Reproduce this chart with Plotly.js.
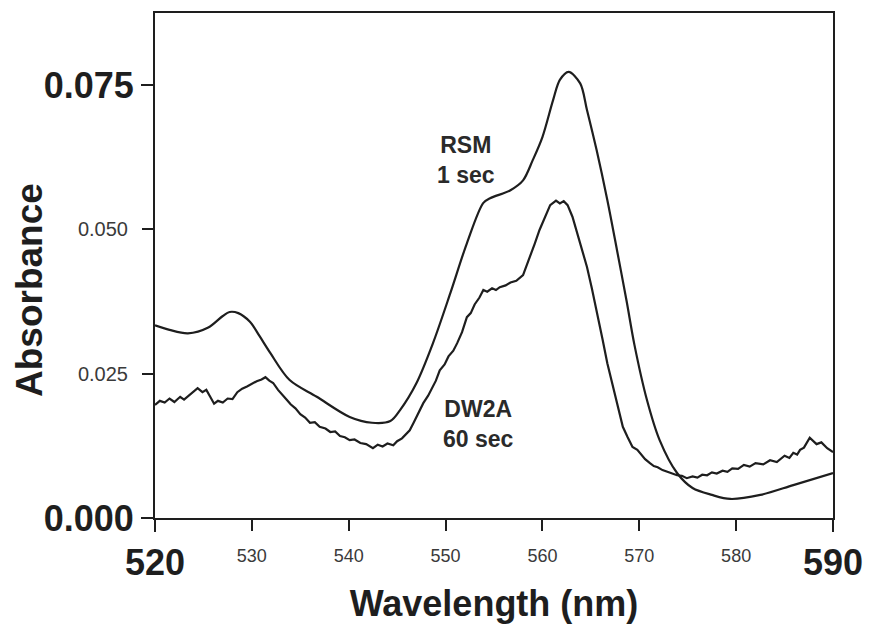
<!DOCTYPE html>
<html><head><meta charset="utf-8">
<script src="https://cdn.plot.ly/plotly-3.0.1.min.js"></script>
<style>html,body{margin:0;padding:0;background:#fff}#chart{width:881px;height:624px}</style>
</head><body><div id="chart"></div>
<script>
// RSM, 1 sec (smooth upper trace)
var rsmWavelength = [520.0, 521.5, 523.4, 525.5, 527.0, 527.7, 528.6, 529.8, 530.8, 531.9, 533.9, 536.7, 540.1, 542.4, 544.3, 545.3, 547.0, 548.7, 550.5, 552.2, 553.9, 554.6, 556.7, 558.0, 559.0, 560.0, 561.1, 561.8, 562.7, 563.9, 564.6, 565.6, 566.7, 567.7, 568.7, 569.5, 570.8, 572.1, 573.9, 575.5, 577.5, 579.4, 582.5, 585.9, 590.0];
var rsmAbs = [0.0334, 0.0326, 0.0320, 0.0330, 0.0350, 0.0357, 0.0355, 0.0340, 0.0315, 0.0286, 0.0239, 0.0210, 0.0175, 0.0165, 0.0168, 0.0187, 0.0234, 0.0303, 0.0390, 0.0476, 0.0546, 0.0554, 0.0568, 0.0585, 0.0620, 0.0660, 0.0724, 0.0759, 0.0773, 0.0753, 0.0707, 0.0637, 0.0551, 0.0464, 0.0375, 0.0300, 0.0204, 0.0135, 0.0078, 0.0052, 0.0040, 0.0033, 0.0040, 0.0057, 0.0078];

// DW2A, 60 sec (noisy lower trace)
var dwWavelength = [520.0,520.5,521.0,521.5,522.0,522.6,523.0,523.5,524.0,524.4,524.9,525.3,525.7,526.1,526.5,527.0,527.5,528.0,528.5,529.0,529.5,530.0,530.5,531.0,531.4,531.8,532.2,532.7,533.1,533.6,534.0,534.5,535.0,535.5,536.0,536.5,537.0,537.6,538.1,538.6,539.1,539.6,540.1,540.6,541.2,541.8,542.5,543.0,543.5,544.0,544.6,545.0,545.5,546.0,546.3,546.7,547.0,547.4,547.7,548.2,548.6,549.0,549.4,549.9,550.3,550.8,551.2,551.7,552.2,552.6,553.0,553.5,553.9,554.3,554.8,555.2,555.6,556.2,556.7,557.3,558.0,558.4,558.7,559.2,559.7,560.2,560.8,561.4,561.8,562.2,562.6,563.1,563.6,564.1,564.6,565.1,565.6,566.2,566.7,567.3,567.8,568.3,568.8,569.3,569.8,570.2,570.6,571.1,571.5,571.9,572.4,572.9,573.4,573.9,574.4,574.9,575.5,576.0,576.5,577.0,577.5,578.0,578.6,579.1,579.6,580.2,580.8,581.4,582.0,582.8,583.5,584.2,585.0,585.5,585.9,586.3,586.6,587.0,587.6,588.0,588.3,588.8,589.4,590.0];
var dwAbs = [0.0196,0.0203,0.0200,0.0207,0.0201,0.0210,0.0205,0.0212,0.0220,0.0225,0.0218,0.0222,0.0210,0.0198,0.0203,0.0200,0.0207,0.0206,0.0218,0.0224,0.0228,0.0233,0.0237,0.0240,0.0244,0.0238,0.0234,0.0222,0.0215,0.0205,0.0197,0.0190,0.0180,0.0174,0.0165,0.0166,0.0158,0.0155,0.0149,0.0150,0.0142,0.0140,0.0135,0.0136,0.0130,0.0128,0.0121,0.0127,0.0124,0.0129,0.0126,0.0133,0.0138,0.0146,0.0152,0.0165,0.0175,0.0190,0.0199,0.0212,0.0225,0.0238,0.0256,0.0266,0.0280,0.0290,0.0303,0.0322,0.0348,0.0355,0.0370,0.0382,0.0395,0.0392,0.0398,0.0395,0.0400,0.0403,0.0408,0.0411,0.0421,0.0438,0.0452,0.0475,0.0499,0.0520,0.0542,0.0550,0.0545,0.0549,0.0542,0.0522,0.0494,0.0465,0.0435,0.0398,0.0360,0.0310,0.0268,0.0227,0.0190,0.0158,0.0140,0.0123,0.0118,0.0110,0.0102,0.0095,0.0090,0.0088,0.0083,0.0080,0.0077,0.0074,0.0073,0.0069,0.0072,0.0070,0.0075,0.0074,0.0079,0.0077,0.0082,0.0080,0.0086,0.0085,0.0092,0.0089,0.0095,0.0093,0.0100,0.0097,0.0108,0.0104,0.0113,0.0110,0.0118,0.0122,0.0139,0.0132,0.0128,0.0131,0.0121,0.0114];

// Tick labels
var xMajorVals = [520, 590];
var xMajorText = ["520", "590"];
var xMinorVals = [530, 540, 550, 560, 570, 580];
var xMinorText = ["530", "540", "550", "560", "570", "580"];
var yMajorVals = [0.000, 0.075];
var yMajorText = ["0.000", "0.075"];
var yMinorVals = [0.025, 0.050];
var yMinorText = ["0.025", "0.050"];

var FONT = "Liberation Sans, Arial, Helvetica, sans-serif";
var INK = "#1e1e1e";
var xRange = [520, 590];
var yRange = [0, 0.0875];

var traces = [
  {x: rsmWavelength, y: rsmAbs, type: "scatter", mode: "lines", xaxis: "x", yaxis: "y",
   line: {color: INK, width: 2.2, shape: "spline", smoothing: 0.9}, hoverinfo: "skip"},
  {x: dwWavelength, y: dwAbs, type: "scatter", mode: "lines", xaxis: "x2", yaxis: "y2",
   line: {color: INK, width: 2.2}, hoverinfo: "skip"}
];

var layout = {
  width: 881, height: 624,
  margin: {l: 155, r: 48, t: 13, b: 106, pad: 0},
  paper_bgcolor: "#ffffff", plot_bgcolor: "#ffffff",
  showlegend: false,
  font: {family: FONT, color: INK},
  xaxis: {
    range: xRange, showgrid: false, zeroline: false,
    showline: true, mirror: true, linewidth: 2, linecolor: INK,
    ticks: "outside", ticklen: 12, tickwidth: 2, tickcolor: INK,
    tickmode: "array", tickvals: xMajorVals, ticktext: xMajorText,
    tickfont: {size: 36, weight: "bold", color: INK, family: FONT},
    title: {text: "Wavelength (nm)", font: {size: 36, weight: "bold", color: INK, family: FONT}, standoff: 12}
  },
  xaxis2: {
    range: xRange, overlaying: "x", anchor: "y2", side: "bottom",
    showgrid: false, zeroline: false, showline: false,
    ticks: "outside", ticklen: 12, tickwidth: 2, tickcolor: INK,
    tickmode: "array", tickvals: xMinorVals, ticktext: xMinorText,
    tickfont: {size: 18, color: "#3a3a3a", family: FONT}, ticklabelstandoff: 9
  },
  yaxis: {
    range: yRange, showgrid: false, zeroline: false,
    showline: true, mirror: true, linewidth: 2, linecolor: INK,
    ticks: "outside", ticklen: 12, tickwidth: 2, tickcolor: INK,
    tickmode: "array", tickvals: yMajorVals, ticktext: yMajorText,
    tickfont: {size: 36, weight: "bold", color: INK, family: FONT}
  },
  yaxis2: {
    range: yRange, overlaying: "y", anchor: "x2", side: "left",
    showgrid: false, zeroline: false, showline: false,
    ticks: "outside", ticklen: 12, tickwidth: 2, tickcolor: INK,
    tickmode: "array", tickvals: yMinorVals, ticktext: yMinorText,
    tickfont: {size: 20, color: "#3a3a3a", family: FONT}, ticklabelstandoff: 10
  },
  annotations: [
    {x: 29, y: 290, xref: "paper", yref: "paper", xanchor: "center", yanchor: "middle",
     text: "Absorbance", showarrow: false, textangle: -90,
     font: {size: 37, weight: "bold", color: INK, family: FONT}},
    {x: 552.1, y: 0.0620, xref: "x", yref: "y", text: "RSM<br>1 sec", showarrow: false,
     align: "center", font: {size: 23, weight: "bold", color: "#2a2a2a", family: FONT}},
    {x: 553.4, y: 0.0163, xref: "x", yref: "y", text: "DW2A<br>60 sec", showarrow: false,
     align: "center", font: {size: 23, weight: "bold", color: "#2a2a2a", family: FONT}}
  ]
};
// Absorbance label position given in pixels: convert to paper coordinates of the plot area
(function(){
  var a = layout.annotations[0];
  var plotW = 881 - 155 - 48, plotH = 624 - 13 - 106;
  a.x = (a.x - 155) / plotW;
  a.y = (624 - 106 - a.y) / plotH;
})();

Plotly.newPlot("chart", traces, layout, {staticPlot: true, displayModeBar: false});
</script>
</body></html>
